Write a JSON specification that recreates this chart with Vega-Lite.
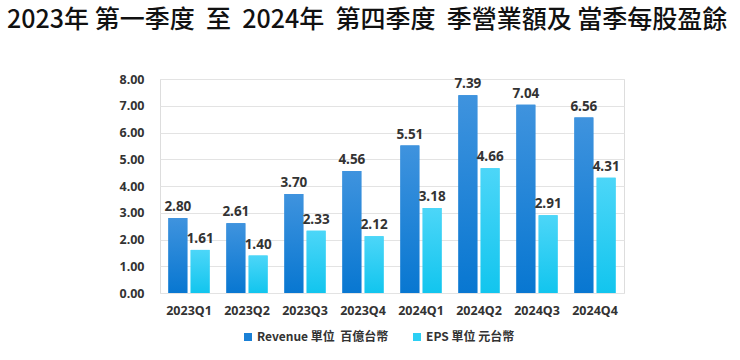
{
  "$schema": "https://vega.github.io/schema/vega-lite/v6.json",
  "autosize": {"type": "none"},
  "width": 464,
  "height": 214,
  "padding": {"left": 160, "top": 79, "right": 116, "bottom": 67},
  "background": "white",
  "title": {
    "text": "2023年\u00a0第一季度\u00a0\u00a0至\u00a0\u00a02024年\u00a0\u00a0第四季度\u00a0\u00a0季營業額及\u00a0當季每股盈餘",
    "anchor": "start",
    "frame": "group",
    "dx": -153,
    "offset": 40,
    "font": "Noto Sans CJK TC",
    "fontSize": 25,
    "fontWeight": 500,
    "color": "#111111"
  },
  "data": {
    "values": [
      {"q": "2023Q1", "series": "Revenue 單位\u00a0\u00a0百億台幣", "value": 2.80},
      {"q": "2023Q1", "series": "EPS 單位 元台幣", "value": 1.61},
      {"q": "2023Q2", "series": "Revenue 單位\u00a0\u00a0百億台幣", "value": 2.61},
      {"q": "2023Q2", "series": "EPS 單位 元台幣", "value": 1.40},
      {"q": "2023Q3", "series": "Revenue 單位\u00a0\u00a0百億台幣", "value": 3.70},
      {"q": "2023Q3", "series": "EPS 單位 元台幣", "value": 2.33},
      {"q": "2023Q4", "series": "Revenue 單位\u00a0\u00a0百億台幣", "value": 4.56},
      {"q": "2023Q4", "series": "EPS 單位 元台幣", "value": 2.12},
      {"q": "2024Q1", "series": "Revenue 單位\u00a0\u00a0百億台幣", "value": 5.51},
      {"q": "2024Q1", "series": "EPS 單位 元台幣", "value": 3.18},
      {"q": "2024Q2", "series": "Revenue 單位\u00a0\u00a0百億台幣", "value": 7.39},
      {"q": "2024Q2", "series": "EPS 單位 元台幣", "value": 4.66},
      {"q": "2024Q3", "series": "Revenue 單位\u00a0\u00a0百億台幣", "value": 7.04},
      {"q": "2024Q3", "series": "EPS 單位 元台幣", "value": 2.91},
      {"q": "2024Q4", "series": "Revenue 單位\u00a0\u00a0百億台幣", "value": 6.56},
      {"q": "2024Q4", "series": "EPS 單位 元台幣", "value": 4.31}
    ]
  },
  "encoding": {
    "x": {
      "field": "q", "type": "nominal", "sort": null,
      "scale": {"paddingInner": 0.29, "paddingOuter": 0.145},
      "axis": {"title": null, "labelAngle": 0, "domain": false, "ticks": false, "labelPadding": 11,
        "labelFont": "Noto Sans", "labelFontSize": 12.5, "labelFontWeight": "bold", "labelColor": "#333333"}
    },
    "xOffset": {"field": "series", "type": "nominal", "sort": ["Revenue 單位\u00a0\u00a0百億台幣", "EPS 單位 元台幣"],
      "scale": {"paddingInner": 0.15}},
    "y": {
      "field": "value", "type": "quantitative",
      "scale": {"domain": [0, 8]},
      "axis": {"title": null, "tickCount": 8, "format": ".2f", "domain": false, "ticks": false, "labelPadding": 16,
        "gridColor": "#e3e3e3", "labelFont": "Noto Sans", "labelFontSize": 12.5, "labelFontWeight": "bold", "labelColor": "#333333"}
    }
  },
  "layer": [
    {
      "mark": {"type": "bar"},
      "encoding": {
        "color": {
          "field": "series", "type": "nominal", "sort": ["Revenue 單位\u00a0\u00a0百億台幣", "EPS 單位 元台幣"],
          "scale": {"range": ["#1a80d6", "#2ccff4"]},
          "legend": {"title": null, "orient": "none", "legendX": 82, "legendY": 252, "padding": 0,
            "direction": "horizontal", "symbolType": "square",
            "symbolSize": 64, "labelFont": "Noto Sans CJK TC", "labelFontSize": 12, "labelFontWeight": "bold",
            "labelColor": "#333333", "columnPadding": 22, "labelOffset": 3, "symbolStrokeWidth": 0}
        }
      }
    },
    {
      "transform": [{"filter": "datum.series === 'EPS 單位 元台幣' ? false : true"}],
      "mark": {"type": "bar", "color": {"gradient": "linear", "x1": 0, "y1": 0, "x2": 0, "y2": 1,
        "stops": [{"offset": 0, "color": "#3f93de"}, {"offset": 1, "color": "#0877d1"}]}}
    },
    {
      "transform": [{"filter": "datum.series === 'EPS 單位 元台幣'"}],
      "mark": {"type": "bar", "color": {"gradient": "linear", "x1": 0, "y1": 0, "x2": 0, "y2": 1,
        "stops": [{"offset": 0, "color": "#4cd6f8"}, {"offset": 1, "color": "#12c5ee"}]}}
    },
    {
      "mark": {"type": "text", "baseline": "bottom", "dy": -4, "font": "Noto Sans", "fontSize": 13.5, "fontWeight": "bold", "color": "#333333"},
      "encoding": {"text": {"field": "value", "type": "quantitative", "format": ".2f"}}
    }
  ]
}
